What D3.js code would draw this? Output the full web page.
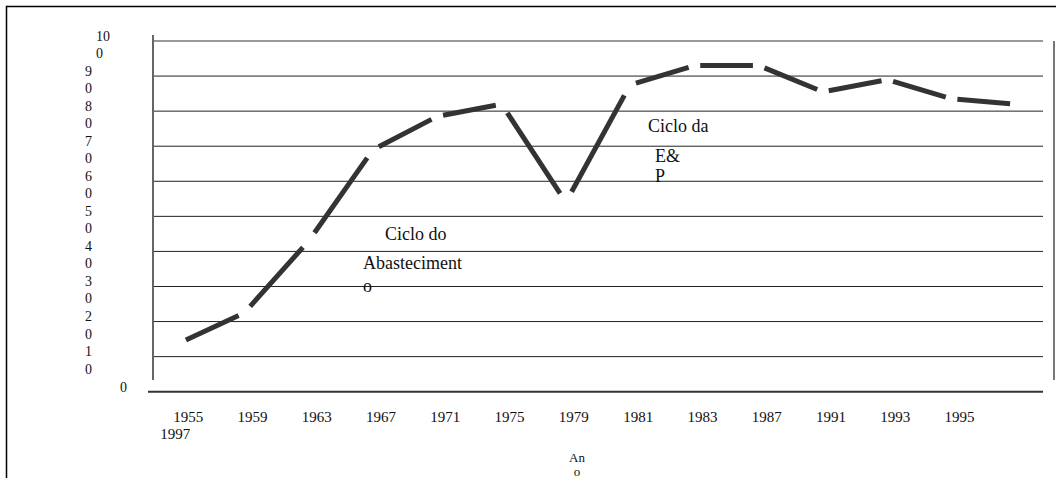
<!DOCTYPE html>
<html>
<head>
<meta charset="utf-8">
<script src="https://cdn.jsdelivr.net/npm/d3@7"></script>
<style>
  body { margin: 0; background: #fff; }
  svg text { font-family: "Liberation Serif", "Times New Roman", serif; fill: #111; }
</style>
</head>
<body>
<svg id="chart" width="1056" height="478"></svg>
<script>
// data
const years  = ["1955", "1959", "1963", "1967", "1971", "1975", "1979",
                "1981", "1983", "1987", "1991", "1993", "1995", "1997"];
const values = [14, 22.5, 43, 69, 78.5, 82, 54, 87.5, 93, 93, 85.5, 89, 83.5, 82];
const yTicks = [0, 10, 20, 30, 40, 50, 60, 70, 80, 90, 100];
const noteSupply = ["Ciclo do", "Abasteciment", "o"];
const noteEP     = ["Ciclo da", "E&", "P"];
const axisTitle  = ["An", "o"];

const W = 1056, H = 478;
const svg = d3.select("#chart");

const x = d3.scalePoint().domain(years).range([148, 1048]).padding(0.5);
const y = d3.scaleLinear().domain([0, 100]).range([391.7, 41]);

// frame (only top and left edges are visible)
svg.append("rect")
  .attr("x", 6.5).attr("y", 6.5)
  .attr("width", W + 100).attr("height", H + 100)
  .attr("fill", "none").attr("stroke", "#000").attr("stroke-width", 1.5);

// gridlines
svg.append("g").selectAll("line")
  .data(yTicks.filter(d => d > 0))
  .join("line")
  .attr("x1", 153).attr("x2", 1043)
  .attr("y1", d => y(d)).attr("y2", d => y(d))
  .attr("stroke", d => d === 100 ? "#777" : "#222")
  .attr("stroke-width", d => d === 100 ? 1.6 : 1);

// axes lines
svg.append("line")
  .attr("x1", 153).attr("x2", 153).attr("y1", 35).attr("y2", 380)
  .attr("stroke", "#666").attr("stroke-width", 2);
svg.append("line")
  .attr("x1", 148).attr("x2", 1043).attr("y1", y(0)).attr("y2", y(0))
  .attr("stroke", "#333").attr("stroke-width", 2);
svg.append("line")
  .attr("x1", 1054).attr("x2", 1054).attr("y1", 41).attr("y2", 380)
  .attr("stroke", "#777").attr("stroke-width", 2);

// y labels, wrapped as in the original ("10" / "0")
const yLab = svg.append("g").attr("font-size", 14);
yTicks.filter(d => d > 0).forEach(v => {
  const s = String(v);
  const lx = v === 100 ? 96 : 85;
  yLab.append("text").attr("x", lx).attr("y", y(v) - 0.5).text(s.slice(0, -1));
  yLab.append("text").attr("x", lx).attr("y", y(v) + 17).text(s.slice(-1));
});
yLab.append("text").attr("x", 120).attr("y", y(0) + 0.5).text("0");

// x labels: last one wraps onto a second line at the left
const xLab = svg.append("g").attr("font-size", 15).attr("text-anchor", "middle");
years.slice(0, -1).forEach(yr => {
  xLab.append("text").attr("x", x(yr) + 8).attr("y", 422).text(yr);
});
xLab.append("text").attr("x", x(years[0]) - 5).attr("y", 439).text(years[years.length - 1]);
axisTitle.forEach((t, i) => {
  xLab.append("text").attr("x", 577).attr("y", 462 + i * 14)
    .attr("font-size", 13).text(t);
});

// thick broken line: one dash per segment, trimmed at each vertex
const pts = years.map((yr, i) => [x(yr), y(values[i])]);
const trim = 0.09;
const segs = d3.pairs(pts).map(([a, b]) => [
  [a[0] + (b[0] - a[0]) * trim, a[1] + (b[1] - a[1]) * trim],
  [b[0] - (b[0] - a[0]) * trim, b[1] - (b[1] - a[1]) * trim]
]);
svg.append("g").selectAll("path")
  .data(segs)
  .join("path")
  .attr("d", d3.line())
  .attr("fill", "none")
  .attr("stroke", "#333")
  .attr("stroke-width", 5)
  .attr("stroke-linecap", "butt");

// annotations
const notes = svg.append("g").attr("font-size", 18);
[[385, 240], [363, 269], [363, 292]].forEach(([tx, ty], i) => {
  notes.append("text").attr("x", tx).attr("y", ty).text(noteSupply[i]);
});
[[648, 132], [655, 162], [655, 182]].forEach(([tx, ty], i) => {
  notes.append("text").attr("x", tx).attr("y", ty).text(noteEP[i]);
});
</script>
</body>
</html>
